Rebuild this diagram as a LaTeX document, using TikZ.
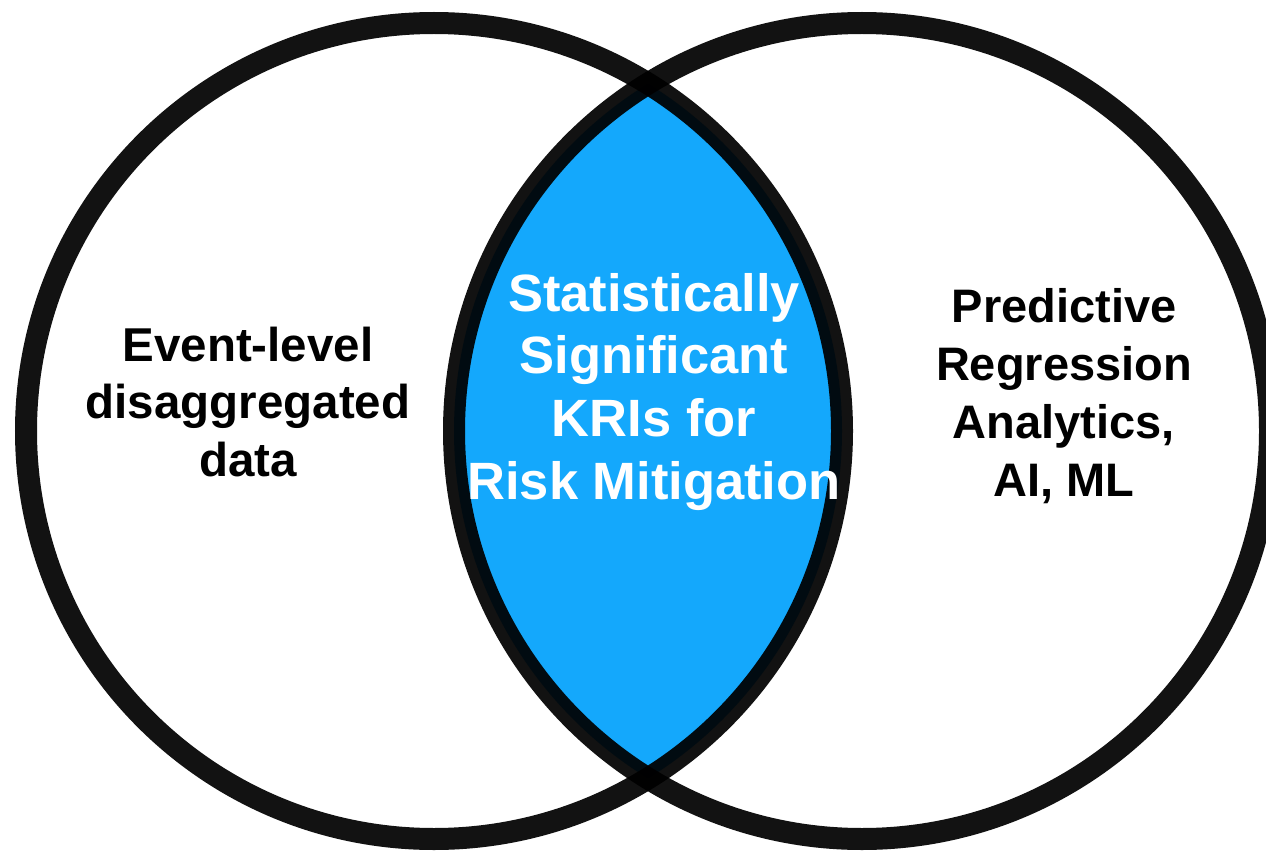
\documentclass[tikz,border=0pt]{standalone}
\usepackage{fontspec}
\setmainfont{Liberation Sans}
\definecolor{lensblue}{RGB}{20,168,252}
\begin{document}
\begin{tikzpicture}[x=1pt,y=-1pt,
  ring/.style={draw=black, draw opacity=0.93, line width=22pt},
  lside/.style={font=\fontsize{47.5}{57}\selectfont\bfseries, text=black, inner sep=0pt, anchor=base},
  rside/.style={font=\fontsize{47}{57}\selectfont\bfseries, text=black, inner sep=0pt, anchor=base},
  mid/.style={font=\fontsize{52.5}{63}\selectfont\bfseries, text=white, inner sep=0pt, anchor=base}]
\useasboundingbox (0,0) rectangle (1266,853);
\fill[white] (0,0) rectangle (1266,853);
\coordinate (cl) at (434,431);
\coordinate (cr) at (862,431);
\begin{scope}
  \clip (cl) circle[radius=408];
  \fill[lensblue] (cr) circle[radius=408];
\end{scope}
\draw[ring] (cl) circle[radius=408];
\draw[ring] (cr) circle[radius=408];
% left text
\node[lside] (l1) at (248,361) {Event-level};
\node[lside] (l2) at (248,418) {disaggregated};
\node[lside] (l3) at (248,476) {data};
% middle text
\node[mid] (m1) at (654,311) {Statistically};
\node[mid] (m2) at (654,373) {Significant};
\node[mid] (m3) at (654,436) {KRIs for};
\node[mid] (m4) at (654,499) {Risk Mitigation};
% right text
\node[rside] (r1) at (1064,322) {Predictive};
\node[rside] (r2) at (1064,380) {Regression};
\node[rside] (r3) at (1064,438) {Analytics,};
\node[rside] (r4) at (1064,496) {AI, ML};
\end{tikzpicture}
\end{document}
